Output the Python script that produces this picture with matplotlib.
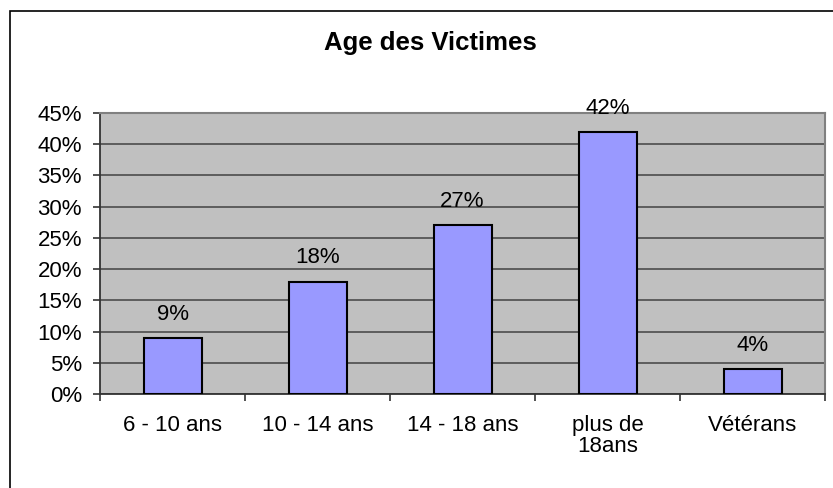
import matplotlib
matplotlib.use("Agg")
import matplotlib.pyplot as plt
from matplotlib.patches import Rectangle
from matplotlib.ticker import FuncFormatter, FixedLocator
import numpy as np

categories = ["6 - 10 ans", "10 - 14 ans", "14 - 18 ans", "plus de\n18ans", "Vétérans"]
values = [0.09, 0.18, 0.27, 0.42, 0.04]
value_labels = ["9%", "18%", "27%", "42%", "4%"]

plt.rcParams['font.family'] = ['Liberation Sans', 'DejaVu Sans']

fig = plt.figure(figsize=(8.33, 4.88), dpi=100)
ax = fig.add_axes([100/833, 1 - 394/488, 725/833, 281/488])

x = np.arange(len(categories))
ax.set_facecolor('#C0C0C0')
ax.bar(x, values, width=0.4, color='#9999FF', edgecolor='black', linewidth=1.5, zorder=3)

for xi, v, lab in zip(x, values, value_labels):
    ax.annotate(lab, (xi, v), xytext=(0, 17), textcoords='offset points',
                ha='center', va='center', fontsize=16)

ax.set_xlim(-0.5, len(categories) - 0.5)
ax.set_ylim(0, 0.45)
ax.set_yticks(np.arange(0, 0.451, 0.05))
ax.yaxis.set_major_formatter(FuncFormatter(lambda v, p: f"{v*100:.0f}%"))
ax.yaxis.grid(True, color='#555555', linewidth=1.3, zorder=1)
ax.set_axisbelow(True)

# category labels centered, ticks on boundaries
ax.set_xticks(x)
ax.set_xticklabels(categories, fontsize=16, linespacing=1.0)
ax.tick_params(axis='x', length=0, pad=15)
ax.xaxis.set_minor_locator(FixedLocator(np.arange(-0.5, len(categories), 1.0)))
ax.tick_params(axis='x', which='minor', length=5, width=1.2, color='#333333')
ax.tick_params(axis='y', labelsize=16, length=5, width=1.2, color='#333333', pad=8)

for s in ['top', 'right']:
    ax.spines[s].set_color('#808080')
    ax.spines[s].set_linewidth(1.5)
for s in ['left', 'bottom']:
    ax.spines[s].set_color('#333333')
    ax.spines[s].set_linewidth(1.3)

fig.text(430/833, 1 - 43/488, "Age des Victimes", ha='center', va='center',
         fontsize=18.5, fontweight='bold')

# outer chart frame (only left/top visible)
fig.patches.append(Rectangle((10/833, -1), 2, 1 + (1 - 11/488), transform=fig.transFigure,
                             fill=False, edgecolor='black', linewidth=1.2))

fig.savefig("out.png", dpi=100)
